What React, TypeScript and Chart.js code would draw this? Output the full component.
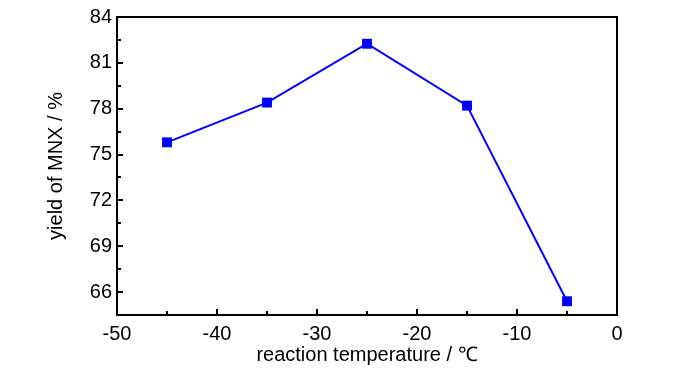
import React, { useEffect, useRef } from "react";
import { Chart, registerables } from "chart.js";

Chart.register(...registerables);

const temperatures = [-45, -35, -25, -15, -5];
const yields = [75.8, 78.4, 82.25, 78.2, 65.4];
const yMajorTicks = [66, 69, 72, 75, 78, 81, 84];
const yMinorTicks = [67.5, 70.5, 73.5, 76.5, 79.5, 82.5];
const xMajorTicks = [-50, -40, -30, -20, -10, 0];
const xMinorTicks = [-45, -35, -25, -15, -5];

const FONT = '"Liberation Sans", Arial, sans-serif';

const framePlugin = {
  id: "frameAndTicks",
  afterDatasetsDraw(chart: any) {
    const { ctx, chartArea } = chart;
    const { left, right, top, bottom } = chartArea;
    const xs = chart.scales.x;
    const ys = chart.scales.y;
    ctx.save();
    ctx.strokeStyle = "#000";
    ctx.lineWidth = 2;
    ctx.beginPath();
    xMajorTicks.forEach((v) => {
      const px = Math.round(xs.getPixelForValue(v));
      ctx.moveTo(px, bottom);
      ctx.lineTo(px, bottom - 6);
    });
    xMinorTicks.forEach((v) => {
      const px = Math.round(xs.getPixelForValue(v));
      ctx.moveTo(px, bottom);
      ctx.lineTo(px, bottom - 4);
    });
    yMajorTicks.forEach((v) => {
      const py = Math.round(ys.getPixelForValue(v));
      ctx.moveTo(left, py);
      ctx.lineTo(left + 6, py);
    });
    yMinorTicks.forEach((v) => {
      const py = Math.round(ys.getPixelForValue(v));
      ctx.moveTo(left, py);
      ctx.lineTo(left + 4, py);
    });
    ctx.stroke();
    ctx.strokeRect(left, top, right - left, bottom - top);
    ctx.restore();
  },
};

export default function App() {
  const ref = useRef<HTMLCanvasElement>(null);
  useEffect(() => {
    document.body.style.margin = "0";
    const canvas = ref.current!;
    const chart = new Chart(canvas, {
      type: "line",
      data: {
        datasets: [
          {
            data: temperatures.map((t, i) => ({ x: t, y: yields[i] })),
            borderColor: "#0000FF",
            backgroundColor: "#0000FF",
            borderWidth: 2,
            pointStyle: "rect",
            pointRadius: 7,
            pointBorderWidth: 0,
            tension: 0,
          },
        ],
      },
      options: {
        responsive: false,
        animation: false,
        layout: { padding: { top: 17, right: 83, left: 0, bottom: 0 } },
        plugins: { legend: { display: false }, tooltip: { enabled: false } },
        scales: {
          x: {
            type: "linear",
            min: -50,
            max: 0,
            grid: { display: false, drawTicks: false },
            border: { display: false },
            afterBuildTicks: (s: any) => {
              s.ticks = xMajorTicks.map((v) => ({ value: v }));
            },
            afterFit: (s: any) => {
              s.height = 59;
            },
            ticks: {
              padding: 7,
              color: "#000",
              font: { family: FONT, size: 20 },
              maxRotation: 0,
            },
            title: {
              display: true,
              text: "reaction temperature / ℃",
              color: "#000",
              font: { family: FONT, size: 20 },
              padding: { top: 0, bottom: 7 },
            },
          },
          y: {
            type: "linear",
            min: 64.5,
            max: 84,
            grid: { display: false, drawTicks: false },
            border: { display: false },
            afterBuildTicks: (s: any) => {
              s.ticks = yMajorTicks.map((v) => ({ value: v }));
            },
            afterFit: (s: any) => {
              s.width = 117;
            },
            ticks: {
              padding: 5,
              color: "#000",
              font: { family: FONT, size: 20 },
            },
            title: {
              display: true,
              text: "yield of MNX / %",
              color: "#000",
              font: { family: FONT, size: 20 },
              padding: { top: 44, bottom: 0 },
            },
          },
        },
      },
      plugins: [framePlugin],
    });
    return () => chart.destroy();
  }, []);
  return <canvas ref={ref} width={700} height={374} style={{ display: "block" }} />;
}
